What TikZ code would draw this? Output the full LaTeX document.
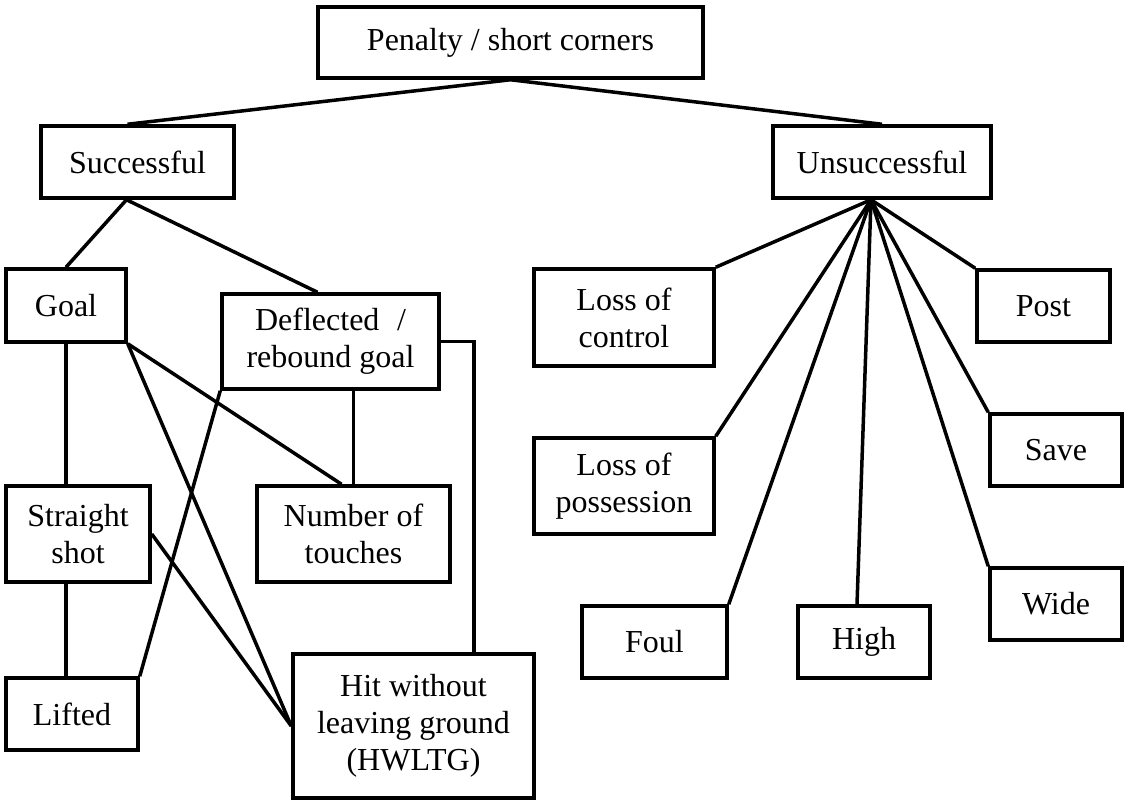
\documentclass[tikz,border=0pt]{standalone}
\usepackage{fontspec}
\setmainfont{Liberation Serif}
\begin{document}
\begin{tikzpicture}[x=1pt,y=-1pt,
  box/.style={draw,line width=3.5pt,rectangle,inner sep=0pt,align=center,
    font=\fontsize{32}{37}\selectfont},
  conn/.style={line width=3.5pt}]
\useasboundingbox (0,0) rectangle (1129,801);
% nodes
\node[box,minimum width=385,minimum height=71] (pen) at (510.5,42.5) {Penalty / short corners};
\node[box,minimum width=193,minimum height=72] (succ) at (137.5,162) {Successful};
\node[box,minimum width=218,minimum height=72] (uns) at (882,162) {Unsuccessful};
\node[box,minimum width=120,minimum height=73] (goal) at (66,305.5) {Goal};
\node[box,minimum width=217,minimum height=95] (defl) at (330.5,341.5) {Deflected\hspace{0.55em}/\\rebound goal};
\node[box,minimum width=144,minimum height=96] (straight) at (78,534) {Straight\\shot};
\node[box,minimum width=193,minimum height=96] (numt) at (353.5,534) {Number of\\touches};
\node[box,minimum width=132,minimum height=72] (lifted) at (72,714) {Lifted};
\node[box,minimum width=241,minimum height=144] (hwltg) at (413.5,726) {Hit without\\leaving ground\\(HWLTG)};
\node[box,minimum width=180,minimum height=97] (lctrl) at (624,317.5) {Loss of\\control};
\node[box,minimum width=180,minimum height=96] (lposs) at (624,486) {Loss of\\possession};
\node[box,minimum width=145,minimum height=72] (foul) at (654.5,642) {Foul};
\node[box,minimum width=132,minimum height=72] (high) at (864,642) {High};
\node[box,minimum width=133,minimum height=72] (post) at (1043.5,306) {Post};
\node[box,minimum width=132,minimum height=72] (save) at (1056,450) {Save};
\node[box,minimum width=132,minimum height=72] (wide) at (1056,604) {Wide};
% connectors
\draw[conn] ([xshift=-10]succ.north) -- (pen.south) -- (uns.north);
\draw[conn] (goal.north) -- ([xshift=-11]succ.south) -- ([xshift=-13]defl.north);
\draw[conn] (goal.south) -- (goal.south |- straight.north);
\draw[conn] (goal.south |- straight.south) -- (goal.south |- lifted.north);
\draw[conn] (goal.south east) -- ([xshift=-12]numt.north);
\draw[conn] (goal.south east) -- (hwltg.west);
\draw[conn] (straight.east) -- (hwltg.west);
\draw[conn] (lifted.north east) -- (defl.south west);
\draw[conn] (numt.north |- defl.south) -- (numt.north);
\draw[conn] (defl.east) -| ([xshift=60.5]hwltg.north);
\foreach \t in {lctrl.north east, lposs.north east, foul.north east, post.north west, save.north west, wide.north west}
  \draw[conn] ([xshift=-11]uns.south) -- (\t);
\draw[conn] ([xshift=-11]uns.south) -- ([xshift=-7]high.north);
\end{tikzpicture}
\end{document}
